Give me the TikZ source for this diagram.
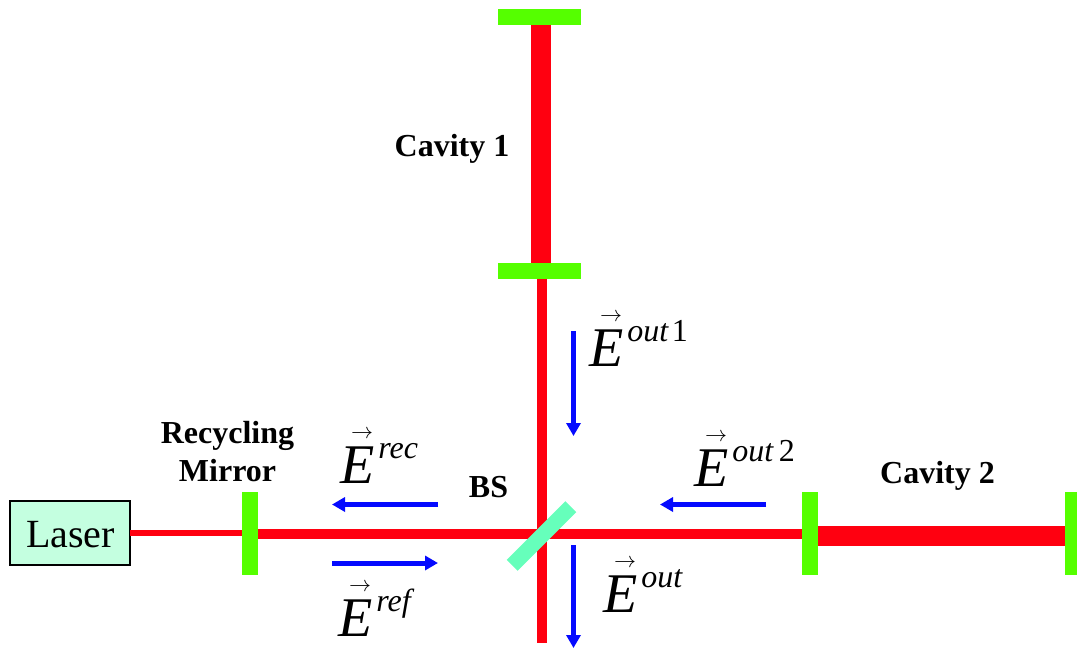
\documentclass[tikz,border=0pt]{standalone}
\usepackage{fontspec}
\setmainfont{Liberation Serif}
\usepackage{tikz}
\usetikzlibrary{arrows.meta}
\definecolor{beamred}{RGB}{255,0,16}
\definecolor{mirrorgreen}{RGB}{85,255,0}
\definecolor{splittergreen}{RGB}{102,255,187}
\definecolor{lasergreen}{RGB}{196,255,224}
\definecolor{fieldblue}{RGB}{5,10,255}
\newcommand{\Efield}[1]{\rlap{\raisebox{45pt}{\kern11pt\resizebox{22pt}{!}{$\rightarrow$}}}{\fontsize{56}{56}\selectfont\itshape E}\kern4pt{\raisebox{25pt}{\fontsize{32}{32}\selectfont #1}}}
\tikzset{
 mirrorv/.style={fill=mirrorgreen,inner sep=0pt,outer sep=0pt,minimum width=16pt,minimum height=83pt},
 mirrorh/.style={fill=mirrorgreen,inner sep=0pt,outer sep=0pt,minimum width=83pt,minimum height=16pt},
 beam/.style={beamred,line width=10pt},
 field/.style={->,fieldblue,line width=5pt},
 caption/.style={font=\fontsize{32}{38}\selectfont\bfseries,align=center},
 fieldlabel/.style={anchor=base west,inner sep=0pt}
}
\begin{document}
\begin{tikzpicture}[x=1pt,y=-1pt,>={Triangle[length=13pt,width=14pt]}]
\useasboundingbox (0,0) rectangle (1077,648);
\node[draw=black,line width=1.2pt,fill=lasergreen,inner sep=0pt,outer sep=0pt,minimum width=120pt,minimum height=64pt] (laser) at (70,533) {};
\node[font=\fontsize{40}{40}\selectfont] (laserlabel) at (70.5,535) {Laser};
\node[mirrorv] (recmirror) at (250,533.5) {};
\node[mirrorv] (cavtwoin) at (810,533.5) {};
\node[mirrorv,minimum width=12pt] (cavtwoend) at (1071,533.5) {};
\node[mirrorh] (cavoneend) at (539.5,17) {};
\node[mirrorh] (cavonein) at (539.5,270.5) {};
\coordinate (bscentre) at (541.5,536);
\coordinate (dumpend) at (541.5,643);
% beams
\draw[beamred,line width=6pt] (laser.east) -- (recmirror.west |- laser.east);
\draw[beam] (recmirror.east |- 0,534) -- (cavtwoin.west |- 0,534);
\draw[beam] (cavonein.south -| bscentre) -- (dumpend);
\draw[beam,line width=20pt] (cavtwoin.east |- 0,535.7) -- (cavtwoend.west |- 0,535.7);
\draw[beam,line width=20pt] (cavoneend.south -| 541,0) -- (cavonein.north -| 541,0);
\node[fill=splittergreen,rotate=45,inner sep=0pt,minimum width=83pt,minimum height=15.5pt] (bs) at (bscentre) {};
% fields
\coordinate (outonea) at (573.5,331);
\coordinate (outoneb) at (573.5,436);
\coordinate (outa) at (573.5,545);
\coordinate (outb) at (573.5,648);
\coordinate (outtwoa) at (766,504.5);
\coordinate (outtwob) at (660,504.5);
\coordinate (reca) at (438,504.5);
\coordinate (recb) at (332,504.5);
\coordinate (refa) at (332,563);
\coordinate (refb) at (438,563);
\draw[field] (outonea) -- (outoneb);
\draw[field] (outa) -- (outb);
\draw[field] (outtwoa) -- (outtwob);
\draw[field] (reca) -- (recb);
\draw[field] (refa) -- (refb);
\node[fieldlabel] (eoutone) at (589,366) {\Efield{\textit{out}\kern3pt 1}};
\node[fieldlabel] (eouttwo) at (694,486) {\Efield{\textit{out}\kern5pt 2}};
\node[fieldlabel] (eout) at (603,612) {\Efield{\textit{out}}};
\node[fieldlabel] (erec) at (340,483) {\Efield{\textit{rec}}};
\node[fieldlabel] (eref) at (338,636) {\Efield{\textit{ref}}};
% captions
\node[caption] (cavonelabel) at (452,149) {Cavity 1};
\node[caption] (cavtwolabel) at (937.5,476) {Cavity 2};
\node[caption] (bslabel) at (488.5,487) {BS};
\node[caption] (reclabel) at (227.5,452) {Recycling\\Mirror};
\end{tikzpicture}
\end{document}
